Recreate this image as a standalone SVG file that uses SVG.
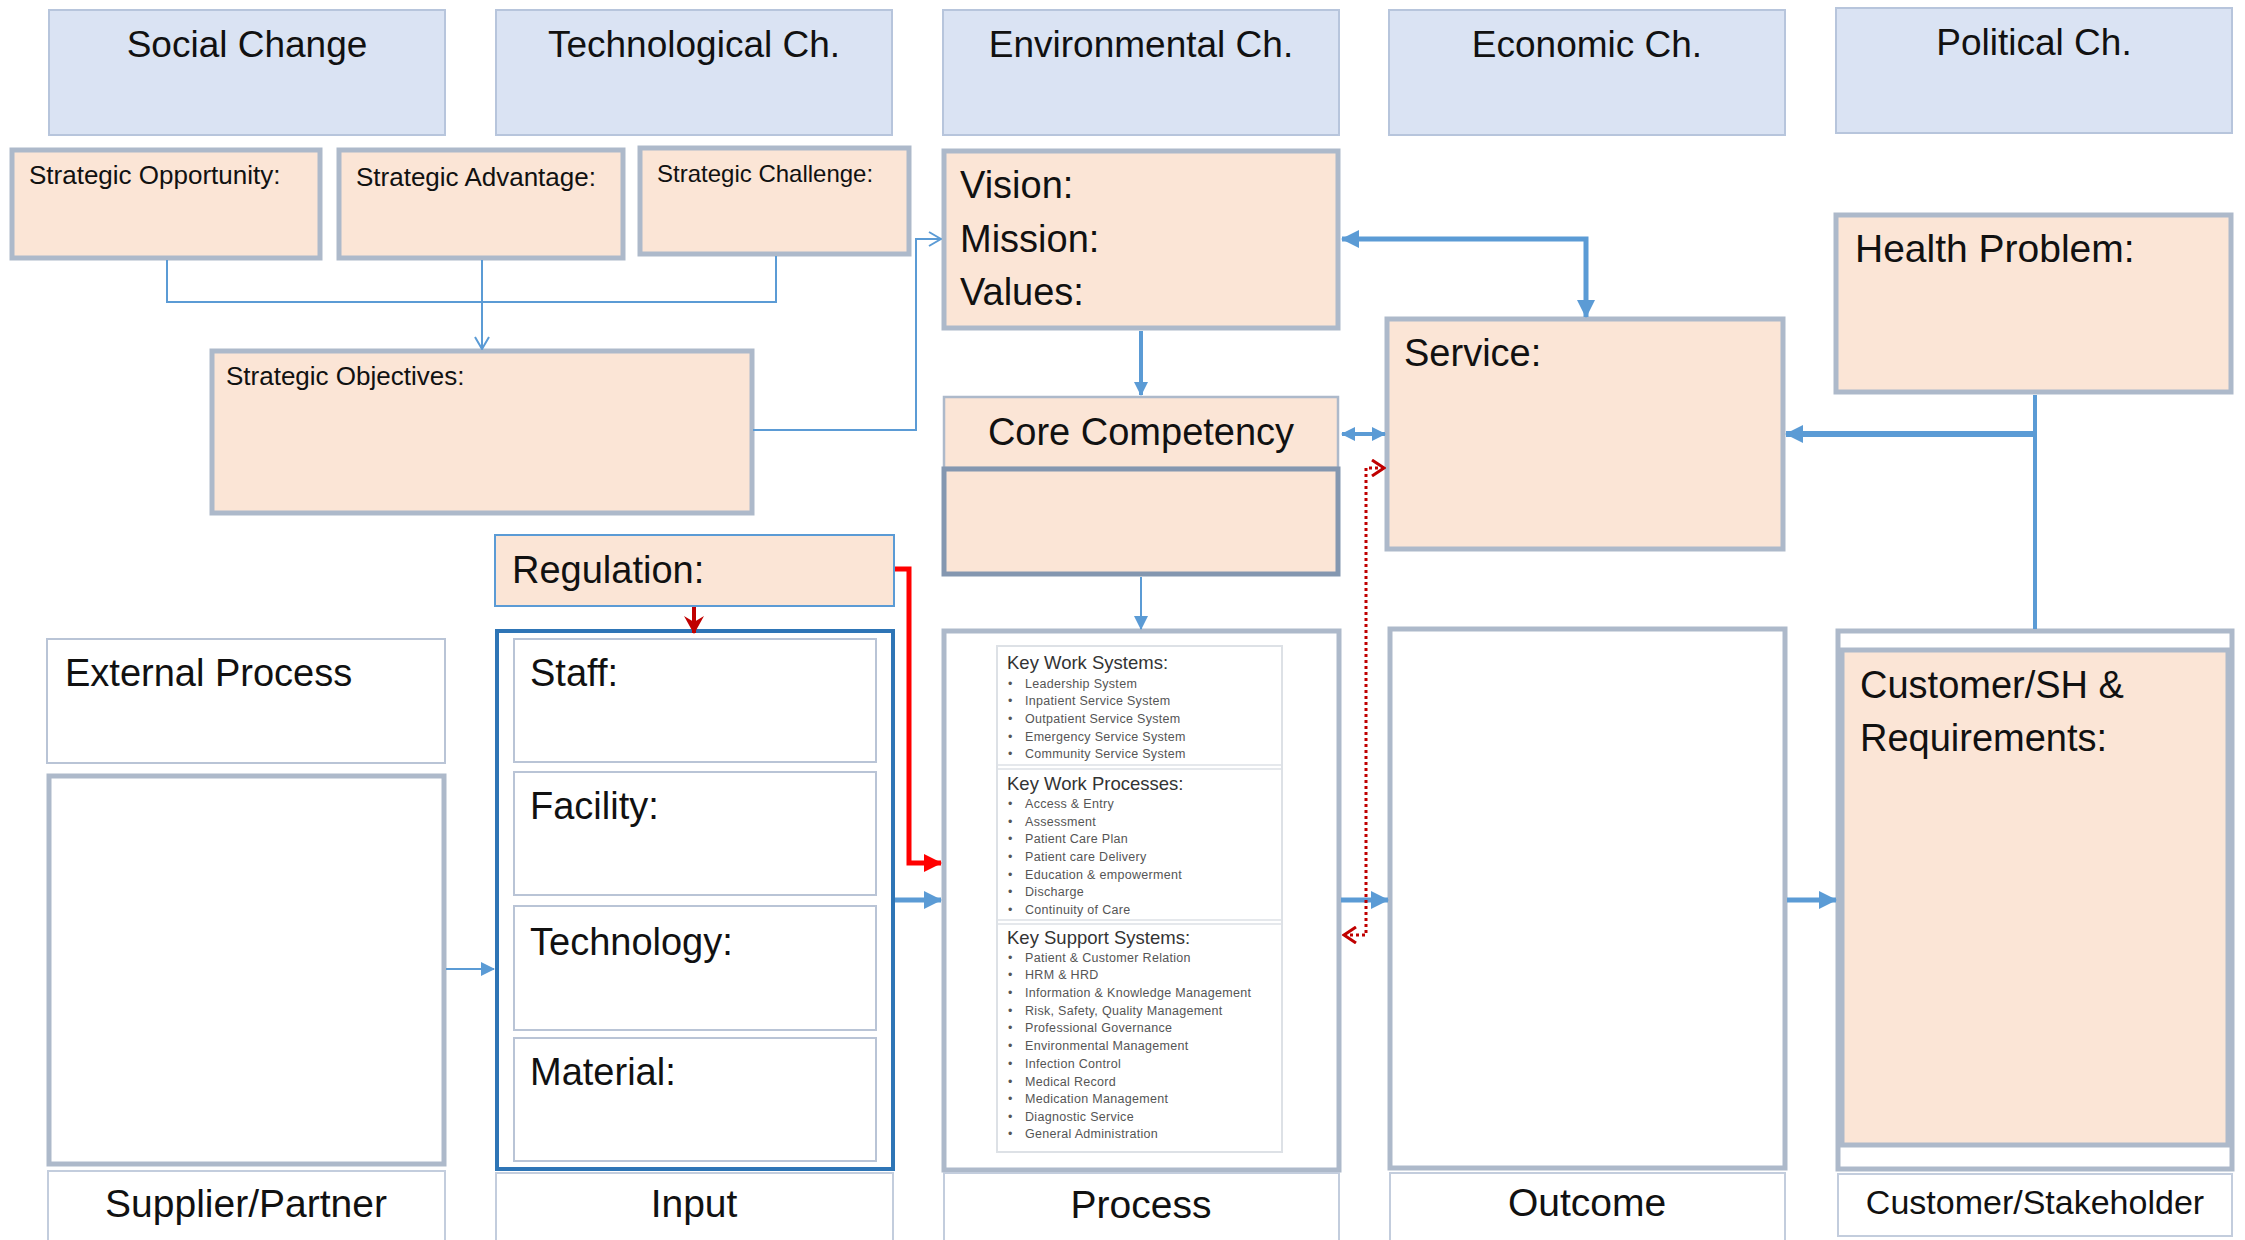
<svg xmlns="http://www.w3.org/2000/svg" width="2245" height="1240" viewBox="0 0 2245 1240">
<style>
text{font-family:"Liberation Sans",Arial,sans-serif;fill:#111}
.hdr{fill:#dae3f3;stroke:#b7c5dc;stroke-width:2}
.pch{fill:#fbe5d6;stroke:#adb9ca;stroke-width:5}
.pchThin{fill:#fbe5d6;stroke:#adb9ca;stroke-width:2.5}
.wht{fill:#fff;stroke:#adb9ca;stroke-width:5}
.whtThin{fill:#fff;stroke:#b9c4d6;stroke-width:2}
.lbl{fill:#fff;stroke:#c3cddd;stroke-width:2}
.big{font-size:38px}
.hd{font-size:37px;text-anchor:middle}
.bot{font-size:39px;text-anchor:middle}
.sm{font-size:26px}
.lt{font-size:18.5px;fill:#333}
.li{font-size:12.5px;fill:#555;letter-spacing:0.3px}
.bl{stroke:#5b9bd5;fill:none}
</style>
<defs>
<marker id="ab" markerUnits="userSpaceOnUse" viewBox="0 0 18 18" refX="17" refY="9" markerWidth="18" markerHeight="18" orient="auto-start-reverse"><path d="M0,0 L18,9 L0,18 Z" fill="#5b9bd5"/></marker>
<marker id="abs" markerUnits="userSpaceOnUse" viewBox="0 0 14 14" refX="13" refY="7" markerWidth="14" markerHeight="14" orient="auto-start-reverse"><path d="M0,0 L14,7 L0,14 Z" fill="#5b9bd5"/></marker>
<marker id="ao" markerUnits="userSpaceOnUse" viewBox="0 0 14 16" refX="13" refY="8" markerWidth="14" markerHeight="16" orient="auto"><path d="M1,1 L13,8 L1,15" fill="none" stroke="#5b9bd5" stroke-width="2"/></marker>
<marker id="ar" markerUnits="userSpaceOnUse" viewBox="0 0 18 18" refX="17" refY="9" markerWidth="18" markerHeight="18" orient="auto"><path d="M0,0 L18,9 L0,18 Z" fill="#ff0000"/></marker>
<marker id="adr" markerUnits="userSpaceOnUse" viewBox="0 0 18 20" refX="17" refY="10" markerWidth="18" markerHeight="20" orient="auto"><path d="M0,0 L18,10 L0,20 L6,10 Z" fill="#c00000"/></marker>
<marker id="ado" markerUnits="userSpaceOnUse" viewBox="0 0 16 18" refX="14" refY="9" markerWidth="16" markerHeight="18" orient="auto-start-reverse"><path d="M2,1 L14,9 L2,17" fill="none" stroke="#c00000" stroke-width="3"/></marker>
</defs>

<g id="headers">
<g id="social"><rect class="hdr" x="49" y="10" width="396" height="125"/><text class="hd" x="247" y="57">Social Change</text></g>
<g id="technological"><rect class="hdr" x="496" y="10" width="396" height="125"/><text class="hd" x="694" y="57">Technological Ch.</text></g>
<g id="environmental"><rect class="hdr" x="943" y="10" width="396" height="125"/><text class="hd" x="1141" y="57">Environmental Ch.</text></g>
<g id="economic"><rect class="hdr" x="1389" y="10" width="396" height="125"/><text class="hd" x="1587" y="57">Economic Ch.</text></g>
<g id="political"><rect class="hdr" x="1836" y="8" width="396" height="125"/><text class="hd" x="2034" y="55">Political Ch.</text></g>
</g>

<g id="opportunity"><rect class="pch" x="12" y="150" width="308" height="108"/><text class="sm" x="29" y="184">Strategic Opportunity:</text></g>
<g id="advantage"><rect class="pch" x="339" y="150" width="284" height="108"/><text class="sm" x="356" y="186">Strategic Advantage:</text></g>
<g id="challenge"><rect class="pch" x="640" y="148" width="269" height="106"/><text x="657" y="182" style="font-size:24px">Strategic Challenge:</text></g>
<g id="objectives"><rect class="pch" x="212" y="351" width="540" height="162"/><text class="sm" x="226" y="385">Strategic Objectives:</text></g>

<g id="vision"><rect class="pch" x="944" y="151" width="394" height="177"/><text class="big" x="960" y="198">Vision:</text><text class="big" x="960" y="252">Mission:</text><text class="big" x="960" y="305">Values:</text></g>
<g id="core"><rect class="pchThin" x="944" y="397" width="394" height="71"/><text class="big" x="1141" y="445" text-anchor="middle">Core Competency</text><rect x="944" y="469" width="394" height="105" fill="#fbe5d6" stroke="#8497b0" stroke-width="5"/></g>
<g id="service"><rect class="pch" x="1387" y="319" width="396" height="230"/><text class="big" x="1404" y="366">Service:</text></g>
<g id="health"><rect class="pch" x="1836" y="215" width="395" height="177"/><text x="1855" y="262" style="font-size:39px">Health Problem:</text></g>

<g id="regulation"><rect x="495" y="535" width="399" height="71" fill="#fbe5d6" stroke="#5b9bd5" stroke-width="2"/><text class="big" x="512" y="583">Regulation:</text></g>

<g id="external"><rect class="whtThin" x="47" y="639" width="398" height="124"/><text class="big" x="65" y="686">External Process</text></g>
<g id="supplier"><rect class="wht" x="49" y="776" width="395" height="388"/></g>
<g id="supplierLabel"><rect class="lbl" x="48" y="1171" width="397" height="72"/><text class="bot" x="246" y="1217">Supplier/Partner</text></g>

<g id="input">
<rect x="497" y="631" width="396" height="538" fill="#fff" stroke="#2e75b6" stroke-width="4"/>
<rect class="whtThin" x="514" y="639" width="362" height="123"/><text class="big" x="530" y="686">Staff:</text>
<rect class="whtThin" x="514" y="772" width="362" height="123"/><text class="big" x="530" y="819">Facility:</text>
<rect class="whtThin" x="514" y="906" width="362" height="124"/><text class="big" x="530" y="955">Technology:</text>
<rect class="whtThin" x="514" y="1038" width="362" height="123"/><text class="big" x="530" y="1085">Material:</text>
</g>
<g id="inputLabel"><rect class="lbl" x="496" y="1173" width="397" height="70"/><text class="bot" x="694" y="1217">Input</text></g>

<g id="process">
<rect class="wht" x="944" y="631" width="395" height="539"/>
<rect x="997" y="646" width="285" height="506" fill="#fff" stroke="#dde1e6" stroke-width="2"/>
<path d="M997,765 H1282 M997,769 H1282 M997,920 H1282 M997,924 H1282" stroke="#dde1e6" stroke-width="1.5"/>
<text class="lt" x="1007" y="669">Key Work Systems:</text>
<text class="li" x="1008" y="688">•</text><text class="li" x="1025" y="688">Leadership System</text>
<text class="li" x="1008" y="705">•</text><text class="li" x="1025" y="705">Inpatient Service System</text>
<text class="li" x="1008" y="723">•</text><text class="li" x="1025" y="723">Outpatient Service System</text>
<text class="li" x="1008" y="741">•</text><text class="li" x="1025" y="741">Emergency Service System</text>
<text class="li" x="1008" y="758">•</text><text class="li" x="1025" y="758">Community Service System</text>
<text class="lt" x="1007" y="790">Key Work Processes:</text>
<text class="li" x="1008" y="808">•</text><text class="li" x="1025" y="808">Access &amp; Entry</text>
<text class="li" x="1008" y="826">•</text><text class="li" x="1025" y="826">Assessment</text>
<text class="li" x="1008" y="843">•</text><text class="li" x="1025" y="843">Patient Care Plan</text>
<text class="li" x="1008" y="861">•</text><text class="li" x="1025" y="861">Patient care Delivery</text>
<text class="li" x="1008" y="879">•</text><text class="li" x="1025" y="879">Education &amp; empowerment</text>
<text class="li" x="1008" y="896">•</text><text class="li" x="1025" y="896">Discharge</text>
<text class="li" x="1008" y="914">•</text><text class="li" x="1025" y="914">Continuity of Care</text>
<text class="lt" x="1007" y="944">Key Support Systems:</text>
<text class="li" x="1008" y="962">•</text><text class="li" x="1025" y="962">Patient &amp; Customer Relation</text>
<text class="li" x="1008" y="979">•</text><text class="li" x="1025" y="979">HRM &amp; HRD</text>
<text class="li" x="1008" y="997">•</text><text class="li" x="1025" y="997">Information &amp; Knowledge Management</text>
<text class="li" x="1008" y="1015">•</text><text class="li" x="1025" y="1015">Risk, Safety, Quality Management</text>
<text class="li" x="1008" y="1032">•</text><text class="li" x="1025" y="1032">Professional Governance</text>
<text class="li" x="1008" y="1050">•</text><text class="li" x="1025" y="1050">Environmental Management</text>
<text class="li" x="1008" y="1068">•</text><text class="li" x="1025" y="1068">Infection Control</text>
<text class="li" x="1008" y="1086">•</text><text class="li" x="1025" y="1086">Medical Record</text>
<text class="li" x="1008" y="1103">•</text><text class="li" x="1025" y="1103">Medication Management</text>
<text class="li" x="1008" y="1121">•</text><text class="li" x="1025" y="1121">Diagnostic Service</text>
<text class="li" x="1008" y="1138">•</text><text class="li" x="1025" y="1138">General Administration</text>
</g>
<g id="processLabel"><rect class="lbl" x="944" y="1173" width="395" height="70"/><text class="bot" x="1141" y="1218">Process</text></g>

<g id="outcome"><rect class="wht" x="1390" y="629" width="395" height="539"/></g>
<g id="outcomeLabel"><rect class="lbl" x="1390" y="1173" width="395" height="70"/><text class="bot" x="1587" y="1216">Outcome</text></g>

<g id="customer">
<rect class="wht" x="1838" y="631" width="394" height="538"/>
<rect class="pch" x="1842" y="650" width="386" height="495"/>
<text class="big" x="1860" y="698">Customer/SH &amp;</text>
<text class="big" x="1860" y="751">Requirements:</text>
</g>
<g id="customerLabel"><rect class="lbl" x="1838" y="1174" width="394" height="62"/><text x="2035" y="1214" text-anchor="middle" style="font-size:34px">Customer/Stakeholder</text></g>

<g id="connectors">
<path class="bl" stroke-width="2" d="M167,260 V302 H776 V256"/>
<path class="bl" stroke-width="2" d="M482,260 V349" marker-end="url(#ao)"/>
<path class="bl" stroke-width="2" d="M753,430 H916 V239 H941" marker-end="url(#ao)"/>
<path class="bl" stroke-width="4" d="M1141,331 V395" marker-end="url(#abs)"/>
<path class="bl" stroke-width="5" d="M1342,239 H1586 V317" marker-start="url(#ab)" marker-end="url(#ab)"/>
<path class="bl" stroke-width="4" d="M1342,434 H1385" marker-start="url(#abs)" marker-end="url(#abs)"/>
<path class="bl" stroke-width="4" d="M2035,395 V629"/>
<path class="bl" stroke-width="6" d="M2035,434 H1786" marker-end="url(#ab)"/>
<path class="bl" stroke-width="2" d="M1141,577 V629" marker-end="url(#abs)"/>
<path d="M694,607 V633" stroke="#c00000" stroke-width="4" fill="none" marker-end="url(#adr)"/>
<path d="M895,569 H909 V863 H941" stroke="#ff0000" stroke-width="5" fill="none" marker-end="url(#ar)"/>
<path class="bl" stroke-width="2" d="M446,969 H494" marker-end="url(#abs)"/>
<path class="bl" stroke-width="5" d="M895,900 H941" marker-end="url(#ab)"/>
<path class="bl" stroke-width="5" d="M1341,900 H1388" marker-end="url(#ab)"/>
<path class="bl" stroke-width="5" d="M1787,900 H1836" marker-end="url(#ab)"/>
<path d="M1384,468 H1366 V935 H1344" stroke="#c00000" stroke-width="3" stroke-dasharray="3,3" fill="none" marker-start="url(#ado)" marker-end="url(#ado)"/>
</g>
</svg>
